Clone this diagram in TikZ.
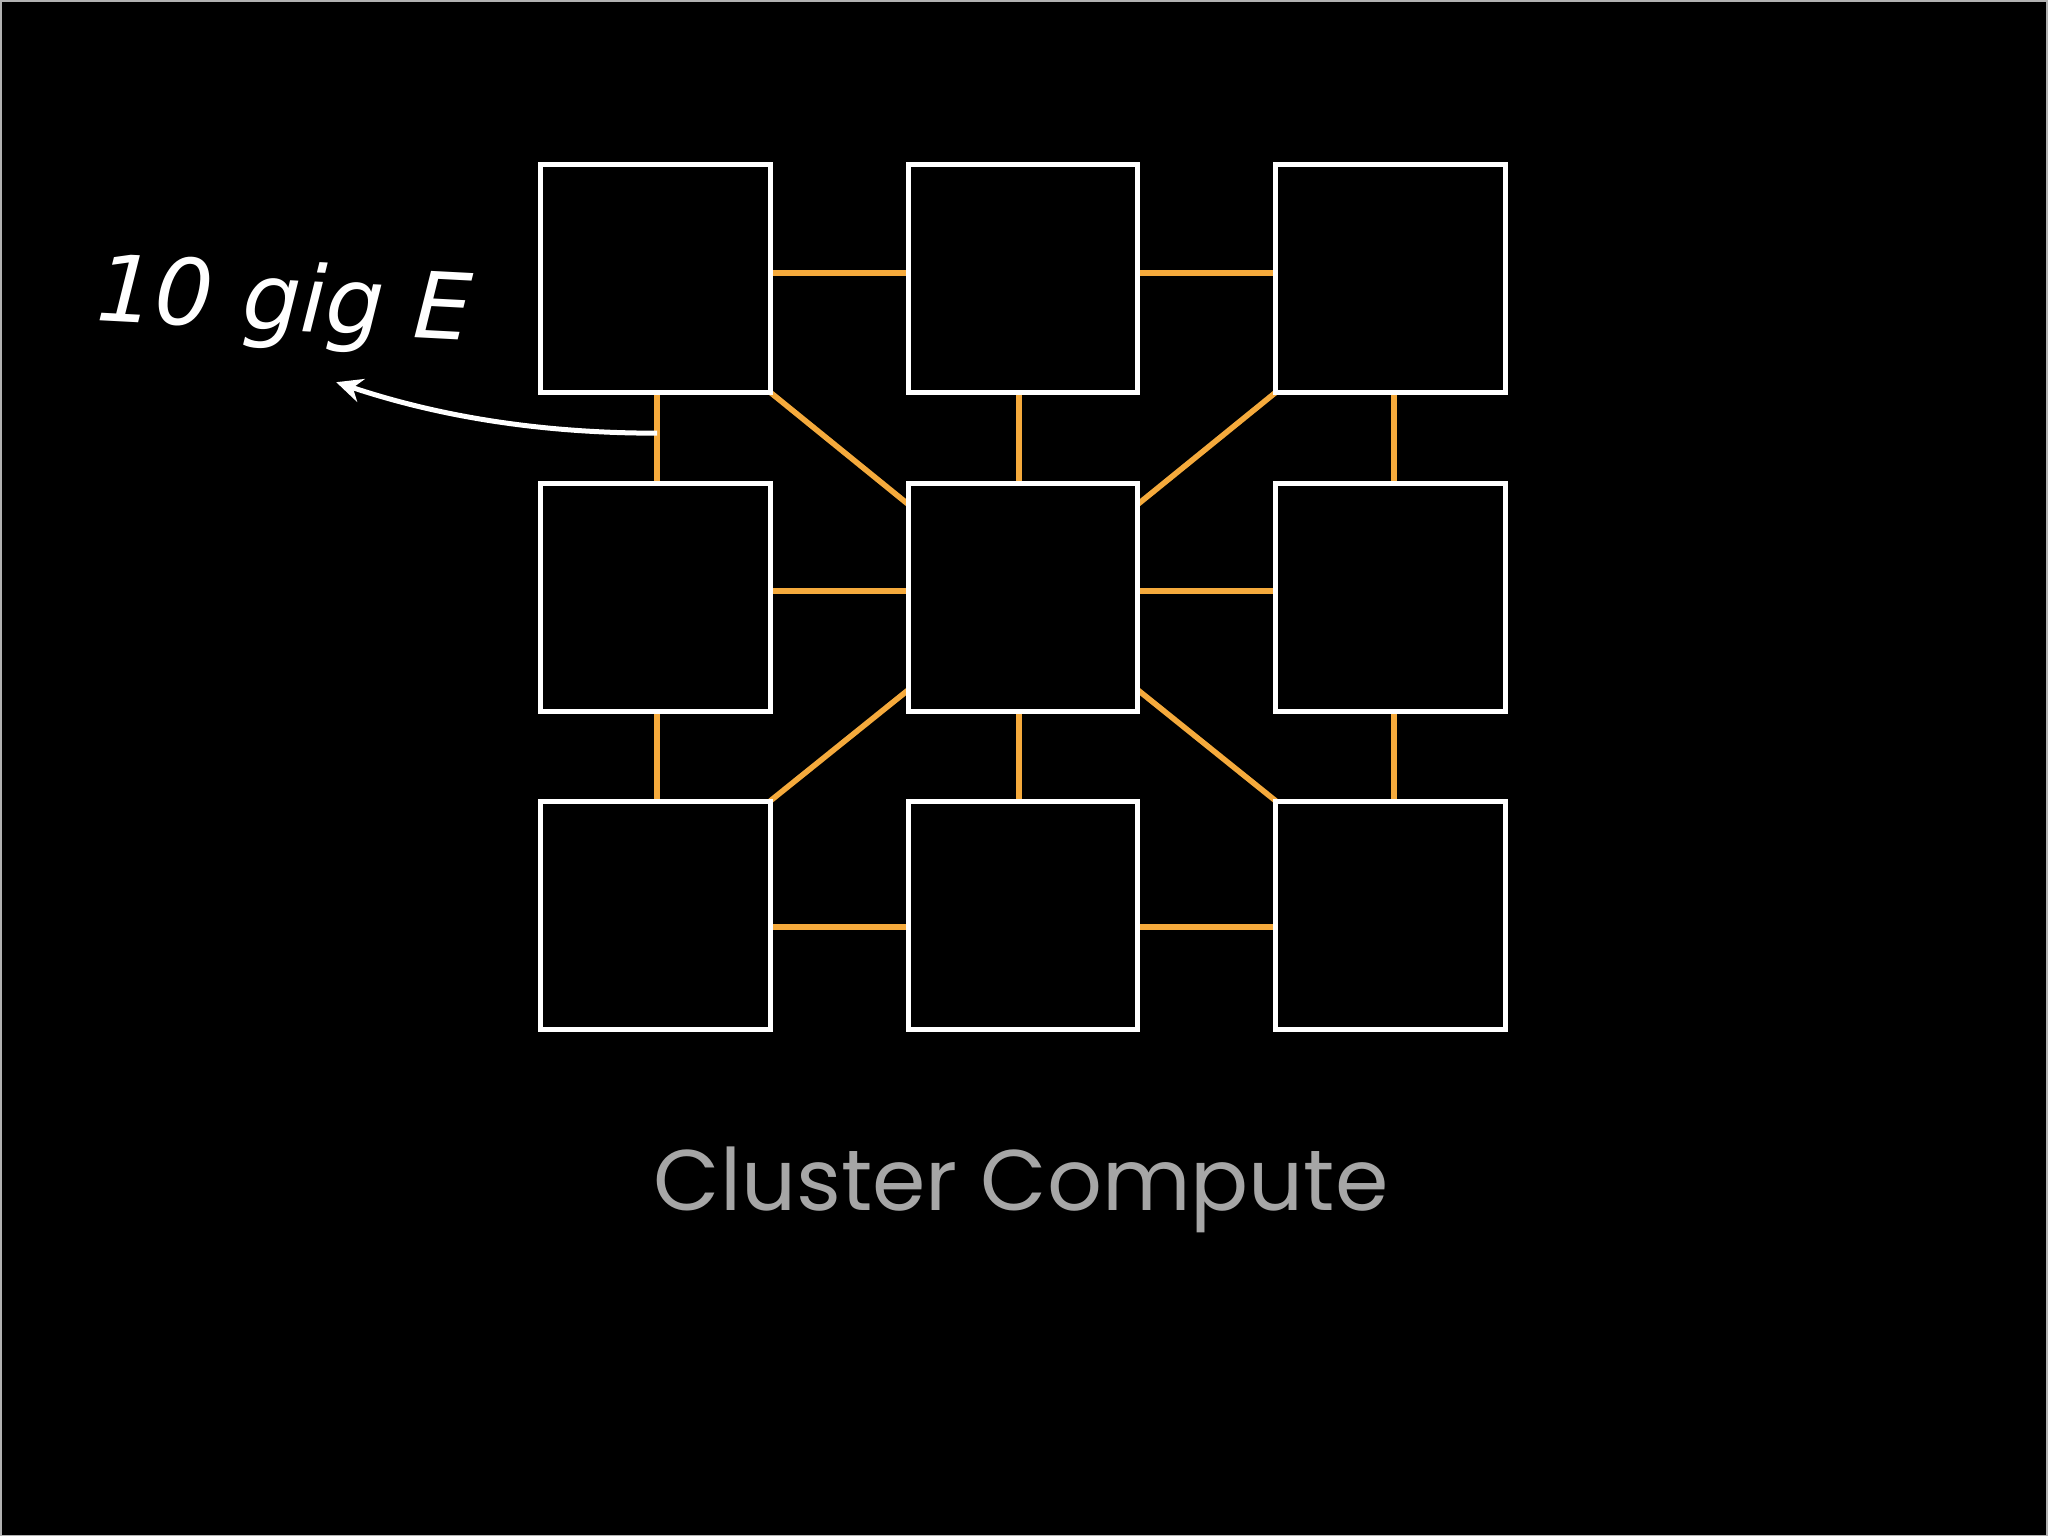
\documentclass[tikz,border=0pt]{standalone}
\usepackage{fontspec}
\setmainfont{DejaVu Sans}
\newfontfamily\titlefont{Poppins}
\usetikzlibrary{calc,arrows.meta}
\definecolor{lk}{RGB}{245,170,60}
\begin{document}
\begin{tikzpicture}[x=0.5pt,y=-0.5pt,
  srv/.style={draw=none,outer sep=0pt,minimum width=115pt,minimum height=114pt,inner sep=0pt},
  link/.style={draw=lk,line width=2.8pt}]
\fill[black] (0,0) rectangle (2048,1536);
\draw[gray!60,line width=0.8pt] (0.5,0.5) rectangle (2047.5,1535.5);
\useasboundingbox (0,0) rectangle (2048,1536);
\foreach \c/\x in {1/655,2/1023,3/1391}{
  \foreach \r/\y in {1/278,2/597,3/915}{
    \coordinate (p\c\r) at (\x,\y);}}
\foreach \c in {1,2,3}{\foreach \r in {1,2,3}{
  \node[srv] (n\c\r) at (p\c\r) {};}}
% horizontal links
\foreach \a/\b in {1/2,2/3}{
  \draw[link] (n\a1.east |- 0,273) -- (n\b1.west |- 0,273);
  \draw[link] (n\a2.east |- 0,591) -- (n\b2.west |- 0,591);
  \draw[link] (n\a3.east |- 0,927) -- (n\b3.west |- 0,927);}
% vertical links
\foreach \c/\x in {1/657,2/1019,3/1394}{
  \draw[link] (n\c1.south -| \x,0) -- (n\c2.north -| \x,0);
  \draw[link] (n\c2.south -| \x,0) -- (n\c3.north -| \x,0);}
% diagonals
\draw[link] (n11.south east) -- ($(n22.north west)+(0,21)$);
\draw[link] (n31.south west) -- ($(n22.north east)+(0,21)$);
\draw[link] (n13.north east) -- ($(n22.south west)+(0,-21)$);
\draw[link] (n33.north west) -- ($(n22.south east)+(0,-21)$);
\foreach \c in {1,2,3}{\foreach \r in {1,2,3}{
  \draw[white,line width=2.5pt] (n\c\r.south west) rectangle (n\c\r.north east);}}
\coordinate (tail) at (657,433);
\coordinate (tip) at (336,382);
\draw[white,line width=2.5pt,-{Stealth[length=13pt,width=12pt]}] (tail) .. controls (520,433) and (420,410) .. (tip);
\node[white,font=\itshape\fontsize{46}{50}\selectfont,rotate=-3] (lbl) at (284,305) {10 gig E};
\node[gray!70!white,font=\titlefont\fontsize{43}{50}\selectfont] (title) at (1021,1190) {Cluster Compute};
\end{tikzpicture}
\end{document}
